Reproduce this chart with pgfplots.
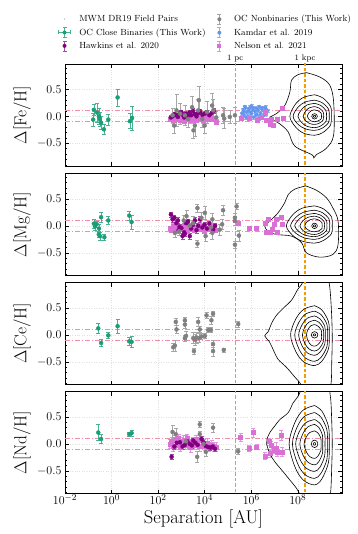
\documentclass[border=0pt]{standalone}
\usepackage{pgfplots}
\pgfplotsset{compat=1.18}
\usepackage{pgfplotstable}

\definecolor{ocgreen}{HTML}{1B9E77}
\definecolor{ocgrey}{HTML}{808080}
\definecolor{hawk}{HTML}{800080}
\definecolor{kamdar}{HTML}{6495ED}
\definecolor{nelson}{HTML}{DA70D6}
\definecolor{pcline}{HTML}{F0A000}
\definecolor{refpink}{HTML}{F090A8}

% x is log10(separation / AU)
\pgfplotsset{
  panel/.style={
    scale only axis, width=277pt, height=102pt,
    xmin=-2, xmax=9.9, ymin=-0.92, ymax=0.97,
    xtick={-2,0,2,4,6,8}, xticklabels={},
    ytick={-0.5,0,0.5},
    minor ytick={-0.9,-0.8,-0.7,-0.6,-0.4,-0.3,-0.2,-0.1,0.1,0.2,0.3,0.4,0.6,0.7,0.8,0.9},
    tick align=inside, xtick pos=both, ytick pos=both,
    major tick length=4pt, minor tick length=2pt,
    grid=major, grid style={dotted, black!12},
    axis line style={line width=0.6pt},
    tick style={black, line width=0.5pt},
    y tick label style={/pgf/number format/.cd, fixed, fixed zerofill, precision=1, /tikz/.cd},
    tick label style={font=\fontsize{12.5}{14}\selectfont},
    x tick label style={yshift=2.5pt},
    every axis y label/.style={at={(axis description cs:-0.155,0.5)}, rotate=90, anchor=center, font=\fontsize{18.5}{22}\selectfont},
    unbounded coords=jump,
  },
  leg/.style={anchor=north west, draw=none, fill=none, legend columns=1,
    font=\fontsize{8.9}{10.5}\selectfont, inner xsep=0pt, inner ysep=0pt,
    cells={anchor=west}, nodes={anchor=west}, /tikz/row sep=1.5pt},
  cont/.style={black, line width=0.6pt, smooth, tension=0.55, no markers, forget plot},
  refline/.style={draw=refpink, color=refpink, line width=1pt, dash pattern=on 5pt off 2pt on 1pt off 2pt, forget plot},
  pcl/.style={draw=pcline, color=pcline, line width=1.5pt, dash pattern=on 3.5pt off 2pt, forget plot},
  errs/.style={/pgfplots/error bars/y dir=both, /pgfplots/error bars/y explicit,
    /pgfplots/error bars/error bar style={line width=0.6pt, #1},
    /pgfplots/error bars/error mark options={rotate=90, mark size=2pt, line width=0.6pt, #1}},
  sgreen/.style={only marks, mark=*, mark size=2pt, color=ocgreen, forget plot, errs={ocgreen!80}},
  sgrey/.style={only marks, mark=*, mark size=2pt, color=ocgrey, forget plot, errs={ocgrey!70}},
  shawk/.style={only marks, mark=*, mark size=2pt, color=hawk, forget plot, errs={hawk!70}},
  skam/.style={only marks, mark=*, mark size=1.6pt, color=kamdar, forget plot, errs={kamdar!70}},
  snel/.style={only marks, mark=square*, mark size=2pt, color=nelson, forget plot, errs={nelson!75}},
  % legend images
  legMWM/.style={legend image code/.code={
    \draw[opacity=0] (0cm,0cm) -- (0.6cm+4pt,0cm);
    \fill[black!35, draw=none] (0.3cm,0cm) circle (0.7pt);}},
  legV/.style 2 args={legend image code/.code={
    \draw[opacity=0] (0cm,0cm) -- (0.6cm+4pt,0cm);
    \draw[#1, fill=none, line width=0.6pt] (0.3cm,-5pt) -- (0.3cm,5pt) (0.3cm-2pt,-5pt) -- (0.3cm+2pt,-5pt) (0.3cm-2pt,5pt) -- (0.3cm+2pt,5pt);
    \fill[#2, draw=none] (0.3cm,0cm) circle (2pt);}},
  legGreen/.style={legend image code/.code={
    \draw[opacity=0] (0cm,0cm) -- (0.6cm+4pt,0cm);
    \draw[ocgreen!80, fill=none, line width=0.6pt] (0.3cm,-5pt) -- (0.3cm,5pt) (0.3cm-2pt,-5pt) -- (0.3cm+2pt,-5pt) (0.3cm-2pt,5pt) -- (0.3cm+2pt,5pt)
       (0.3cm-6pt,0pt) -- (0.3cm+6pt,0pt) (0.3cm-6pt,-2pt) -- (0.3cm-6pt,2pt) (0.3cm+6pt,-2pt) -- (0.3cm+6pt,2pt);
    \fill[ocgreen, draw=none] (0.3cm,0cm) circle (2pt);}},
  legNel/.style={legend image code/.code={
    \draw[opacity=0] (0cm,0cm) -- (0.6cm+4pt,0cm);
    \draw[nelson!75, fill=none, line width=0.6pt] (0.3cm,-5pt) -- (0.3cm,5pt) (0.3cm-2pt,-5pt) -- (0.3cm+2pt,-5pt) (0.3cm-2pt,5pt) -- (0.3cm+2pt,5pt);
    \fill[nelson, draw=none] (0.3cm-1.9pt,-1.9pt) rectangle (0.3cm+1.9pt,1.9pt);}},
}

% ---------------- Fe ----------------
\pgfplotstableread{
x y e
-0.79 -0.06 0.12
-0.76 0.12 0.10
-0.62 0.07 0.18
-0.54 0.00 0.14
-0.50 -0.05 0.13
-0.45 -0.12 0.12
-0.33 -0.24 0.10
-0.14 -0.06 0.10
0.26 0.35 0.16
0.79 -0.09 0.14
0.88 -0.03 0.22
}\feGreen
\pgfplotstableread{
x y e
2.62 0.02 0.12
2.69 -0.17 0.15
2.79 0.11 0.30
2.95 0.05 0.20
3.15 0.02 0.18
3.29 -0.05 0.15
3.46 0.17 0.20
3.58 -0.17 0.20
3.52 -0.26 0.15
3.72 0.11 0.20
3.75 0.30 0.25
3.90 -0.05 0.15
4.00 -0.17 0.15
4.10 0.08 0.20
4.32 0.20 0.22
4.37 0.11 0.20
4.50 -0.02 0.12
4.79 0.02 0.15
4.84 -0.04 0.18
5.08 -0.01 0.12
5.30 0.02 0.15
}\feGrey
\pgfplotstableread{
x y e
2.55 -0.02 0.04
2.62 0.00 0.04
2.70 0.04 0.04
2.78 0.02 0.04
2.85 -0.01 0.04
2.92 0.05 0.04
3.00 0.08 0.04
3.05 0.03 0.04
3.12 -0.02 0.04
3.20 0.05 0.04
3.28 0.01 0.04
3.35 0.07 0.04
3.42 0.02 0.04
3.50 0.10 0.04
3.58 0.04 0.04
3.65 0.00 0.04
3.72 0.06 0.04
3.80 0.09 0.04
3.90 0.03 0.04
4.00 0.05 0.04
4.10 0.08 0.04
4.20 0.02 0.04
4.30 0.06 0.04
4.40 0.10 0.04
}\feHawk
\pgfplotstableread{
x y e
2.52 -0.05 0.04
2.58 -0.02 0.04
2.65 -0.08 0.04
2.72 -0.03 0.04
2.80 -0.06 0.04
2.88 -0.01 0.04
2.95 -0.07 0.04
3.02 -0.04 0.04
3.10 -0.09 0.04
3.18 -0.02 0.04
3.25 -0.06 0.04
3.32 -0.03 0.04
3.40 -0.08 0.04
3.48 -0.01 0.04
3.55 -0.05 0.04
3.62 -0.07 0.04
3.70 -0.02 0.04
3.78 -0.06 0.04
3.85 -0.03 0.04
3.92 -0.08 0.04
4.00 -0.04 0.04
4.08 -0.01 0.04
4.15 -0.06 0.04
4.25 -0.03 0.04
4.35 -0.05 0.04
4.51 -0.10 0.04
5.55 -0.03 0.03
5.90 -0.03 0.03
6.25 -0.07 0.03
6.45 -0.02 0.03
6.58 0.08 0.03
6.66 -0.08 0.03
6.80 -0.14 0.03
6.87 -0.06 0.03
6.93 -0.17 0.03
7.13 -0.05 0.03
7.31 0.16 0.03
7.37 -0.04 0.03
}\feNel
\pgfplotstableread{
x y e
5.60 0.05 0.03
5.65 0.12 0.03
5.70 0.02 0.03
5.75 0.15 0.03
5.80 0.08 0.03
5.85 0.00 0.03
5.90 0.10 0.03
5.95 0.17 0.03
6.00 0.05 0.03
6.05 0.12 0.03
6.10 -0.02 0.03
6.15 0.09 0.03
6.20 0.15 0.03
6.25 0.04 0.03
6.30 0.11 0.03
6.35 0.18 0.03
6.40 0.06 0.03
6.45 0.13 0.03
6.50 0.00 0.03
6.55 0.09 0.03
6.60 0.14 0.03
6.65 0.05 0.03
6.70 0.10 0.03
5.68 0.08 0.03
5.78 -0.03 0.03
5.88 0.14 0.03
5.98 0.07 0.03
6.08 0.16 0.03
6.18 0.02 0.03
6.28 0.13 0.03
6.38 0.01 0.03
6.48 0.16 0.03
6.58 0.04 0.03
5.72 0.18 0.03
6.02 0.19 0.03
6.32 -0.04 0.03
6.62 0.17 0.03
}\feKam

% ---------------- Mg ----------------
\pgfplotstableread{
x y e
-0.76 0.04 0.08
-0.71 -0.01 0.08
-0.64 0.03 0.06
-0.54 -0.05 0.07
-0.55 -0.16 0.06
-0.50 -0.19 0.07
-0.45 0.16 0.10
-0.31 -0.21 0.05
-0.14 0.10 0.07
0.76 0.19 0.08
0.86 0.07 0.13
}\mgGreen
\pgfplotstableread{
x y e
2.72 -0.13 0.08
2.90 -0.10 0.08
3.10 0.10 0.10
3.22 0.18 0.10
3.36 0.00 0.10
3.50 0.05 0.12
3.69 0.33 0.07
3.69 -0.33 0.07
3.86 0.15 0.10
4.01 0.24 0.12
4.04 -0.19 0.10
4.26 -0.03 0.10
4.33 0.12 0.12
4.33 -0.13 0.12
4.65 -0.07 0.10
4.75 0.03 0.10
4.79 0.29 0.09
5.30 0.15 0.08
5.30 0.09 0.08
5.37 0.36 0.06
5.47 -0.18 0.10
5.30 -0.35 0.06
}\mgGrey
\pgfplotstableread{
x y e
2.55 0.21 0.05
2.62 0.12 0.05
2.70 0.15 0.05
2.78 0.05 0.05
2.85 0.10 0.05
2.88 -0.08 0.05
2.92 -0.02 0.05
3.00 -0.04 0.05
3.05 -0.19 0.05
3.12 -0.12 0.05
3.15 -0.15 0.05
3.20 0.05 0.05
3.28 0.08 0.05
3.36 -0.19 0.05
3.42 -0.05 0.05
3.50 0.02 0.05
3.58 0.10 0.05
3.65 -0.08 0.05
3.72 0.00 0.05
3.80 0.12 0.05
3.90 -0.03 0.05
4.00 0.02 0.05
4.10 -0.05 0.05
4.20 0.04 0.05
4.37 -0.07 0.05
4.45 0.00 0.05
}\mgHawk
\pgfplotstableread{
x y e
2.50 -0.04 0.04
2.58 -0.08 0.04
2.65 0.00 0.04
2.72 -0.06 0.04
2.80 -0.02 0.04
2.88 -0.09 0.04
2.95 -0.03 0.04
3.02 -0.07 0.04
3.10 0.01 0.04
3.18 -0.05 0.04
3.25 -0.10 0.04
3.32 -0.02 0.04
3.40 -0.06 0.04
3.48 0.02 0.04
3.55 -0.08 0.04
3.62 -0.03 0.04
3.70 -0.05 0.04
3.78 0.00 0.04
3.85 -0.07 0.04
3.92 -0.02 0.04
4.00 -0.09 0.04
4.10 -0.04 0.04
4.20 -0.06 0.04
4.30 -0.01 0.04
4.45 -0.08 0.04
5.44 0.04 0.03
5.90 -0.05 0.03
6.23 -0.05 0.03
6.58 0.04 0.03
6.66 -0.11 0.03
6.73 0.12 0.03
6.80 -0.11 0.03
6.91 -0.07 0.03
6.97 0.03 0.03
7.06 0.12 0.03
7.11 -0.12 0.03
7.30 0.16 0.03
7.34 0.03 0.03
}\mgNel

% ---------------- Ce ----------------
\pgfplotstableread{
x y e
-0.57 0.12 0.10
-0.45 -0.15 0.07
-0.14 -0.01 0.05
0.26 0.16 0.13
0.76 -0.12 0.07
0.86 -0.13 0.10
}\ceGreen
\pgfplotstableread{
x y e
2.65 -0.23 0.08
2.72 -0.20 0.10
2.76 0.24 0.07
2.79 0.10 0.07
3.15 0.27 0.06
3.15 0.19 0.06
3.20 -0.02 0.08
3.15 -0.06 0.06
3.51 -0.06 0.10
3.58 -0.09 0.10
3.54 -0.30 0.06
3.65 -0.05 0.10
3.72 0.24 0.08
3.76 -0.06 0.08
3.79 0.10 0.06
3.86 -0.03 0.05
4.01 -0.02 0.05
4.08 0.36 0.06
4.15 0.09 0.05
4.27 0.09 0.05
4.29 0.27 0.07
4.36 0.39 0.05
4.36 -0.17 0.06
4.36 -0.30 0.10
4.82 -0.28 0.04
5.44 0.20 0.06
}\ceGrey

% ---------------- Nd ----------------
\pgfplotstableread{
x y e
-0.57 0.21 0.15
-0.45 0.09 0.08
0.76 0.18 0.04
0.86 0.20 0.06
}\ndGreen
\pgfplotstableread{
x y e
2.62 0.22 0.13
2.76 0.18 0.10
3.20 0.05 0.10
3.68 -0.24 0.10
3.79 0.36 0.06
3.79 0.18 0.06
3.95 0.00 0.08
4.05 -0.15 0.08
4.36 0.30 0.08
5.44 -0.14 0.05
}\ndGrey
\pgfplotstableread{
x y e
2.58 -0.24 0.05
2.70 -0.05 0.05
2.80 0.02 0.05
2.94 0.03 0.05
3.05 -0.05 0.05
3.15 -0.02 0.05
3.25 0.05 0.05
3.36 0.00 0.05
3.45 -0.03 0.05
3.51 0.06 0.05
3.60 0.02 0.05
3.70 -0.02 0.05
3.87 0.09 0.05
3.95 0.03 0.05
4.05 -0.04 0.05
4.15 -0.06 0.05
4.25 -0.07 0.05
4.35 -0.05 0.05
4.44 -0.09 0.05
}\ndHawk
\pgfplotstableread{
x y e
2.50 0.00 0.08
2.58 0.05 0.08
2.65 -0.05 0.08
2.72 0.08 0.08
2.80 -0.02 0.08
2.88 0.10 0.08
2.95 -0.06 0.08
3.02 0.04 0.08
3.10 0.07 0.08
3.18 -0.03 0.08
3.25 0.10 0.08
3.32 0.00 0.08
3.40 -0.07 0.08
3.48 0.05 0.08
3.55 -0.02 0.08
3.62 0.08 0.08
3.70 0.03 0.08
3.78 -0.05 0.08
3.85 0.06 0.08
3.92 0.00 0.08
4.00 -0.04 0.08
4.10 0.02 0.08
4.20 -0.06 0.08
4.30 -0.02 0.08
4.40 -0.05 0.08
4.50 -0.06 0.08
5.54 0.12 0.08
5.90 -0.08 0.05
6.08 0.21 0.08
6.23 -0.06 0.05
6.58 -0.22 0.06
6.77 0.04 0.06
6.80 -0.18 0.06
6.87 -0.03 0.08
6.97 -0.12 0.06
7.06 -0.08 0.10
7.11 -0.15 0.08
7.30 0.16 0.10
7.34 -0.15 0.08
}\ndNel

\begin{document}
\begin{tikzpicture}
\useasboundingbox (0,0) rectangle (357pt,-534pt);

% ===== panel 1: Fe (left legend column) =====
\begin{axis}[panel, at={(65pt,-64pt)}, anchor=north west,
  ylabel={$\Delta[\mathrm{Fe}/\mathrm{H}]$},
  legend cell align=left,
  legend style={leg, at={(-0.034,1.50)}},
]
\addlegendimage{legMWM}
\addlegendentry{MWM DR19 Field Pairs}
\addlegendimage{legGreen}
\addlegendentry{OC Close Binaries (This Work)}
\addlegendimage{legV={hawk!70}{hawk}}
\addlegendentry{Hawkins et al. 2020}

\addplot[refline] coordinates {(-2,0.1) (10,0.1)};
\addplot[refline] coordinates {(-2,-0.1) (10,-0.1)};
\addplot[skam] table[x=x, y=y, y error=e] {\feKam};
\addplot[snel] table[x=x, y=y, y error=e] {\feNel};
\addplot[shawk] table[x=x, y=y, y error=e] {\feHawk};
\addplot[sgrey] table[x=x, y=y, y error=e] {\feGrey};
\addplot[sgreen] table[x=x, y=y, y error=e] {\feGreen};
\addplot[pcl] coordinates {(5.314,-1) (5.314,1) (nan,nan) (8.314,-1) (8.314,1)};
% field-pair density contours
\addplot[cont] coordinates {(8.37,0.81) (8.94,0.73) (9.37,0.58) (9.54,0.27) (9.54,-0.35) (9.23,-0.59) (8.8,-0.71) (8.69,-0.77) (8.6,-0.71) (7.87,-0.55) (7.59,-0.29) (7.23,-0.14) (6.94,-0.07) (6.8,-0.02) (7.08,0.05) (7.44,0.2) (7.66,0.45) (7.73,0.67) (8.0,0.77) (8.37,0.81)};
\addplot[cont] coordinates {(8.72,0.40) (9.08,0.34) (9.41,0.18) (9.44,0) (9.41,-0.16) (9.08,-0.30) (8.72,-0.35) (8.24,-0.31) (7.89,-0.19) (7.66,0) (7.89,0.22) (8.24,0.35) (8.72,0.40)};
\addplot[cont] coordinates {(8.72,0.30) (9.04,0.255) (9.32,0.135) (9.35,0) (9.32,-0.117) (9.04,-0.221) (8.72,-0.26) (8.31,-0.229) (8.0,-0.143) (7.80,0) (8.0,0.165) (8.31,0.264) (8.72,0.30)};
\addplot[cont] coordinates {(8.72,0.24) (8.98,0.204) (9.21,0.108) (9.23,0) (9.21,-0.095) (8.98,-0.179) (8.72,-0.21) (8.40,-0.185) (8.17,-0.116) (8.01,0) (8.17,0.132) (8.40,0.211) (8.72,0.24)};
\addplot[cont] coordinates {(8.72,0.18) (8.92,0.153) (9.09,0.081) (9.11,0) (9.09,-0.068) (8.92,-0.128) (8.72,-0.15) (8.50,-0.132) (8.34,-0.083) (8.23,0) (8.34,0.099) (8.50,0.158) (8.72,0.18)};
\addplot[cont] coordinates {(8.72,0.12) (8.87,0.102) (9.01,0.054) (9.02,0) (9.01,-0.045) (8.87,-0.085) (8.72,-0.10) (8.58,-0.088) (8.48,-0.055) (8.41,0) (8.48,0.066) (8.58,0.106) (8.72,0.12)};
\addplot[cont] coordinates {(8.84,0) (8.805,0.035) (8.72,0.05) (8.635,0.035) (8.60,0) (8.635,-0.035) (8.72,-0.05) (8.805,-0.035) (8.84,0)};
\addplot[cont] coordinates {(8.77,0) (8.755,0.014) (8.72,0.02) (8.685,0.014) (8.67,0) (8.685,-0.014) (8.72,-0.02) (8.755,-0.014) (8.77,0)};
\coordinate (pc) at (axis cs:5.314,0.97);
\coordinate (kpc) at (axis cs:8.314,0.97);
\end{axis}
\node[anchor=south, inner sep=1.5pt, font=\fontsize{8.2}{9}\selectfont] at (pc) {1 pc};
\node[anchor=south, inner sep=1.5pt, font=\fontsize{8.2}{9}\selectfont] at (kpc) {1 kpc};

% ===== overlay on panel 1 holding the right legend column =====
\begin{axis}[panel, hide axis, grid=none, at={(65pt,-64pt)}, anchor=north west,
  legend cell align=left,
  legend style={leg, at={(0.525,1.50)}},
]
\addlegendimage{legV={ocgrey!70}{ocgrey}}
\addlegendentry{OC Nonbinaries (This Work)}
\addlegendimage{legV={kamdar!70}{kamdar}}
\addlegendentry{Kamdar et al. 2019}
\addlegendimage{legNel}
\addlegendentry{Nelson et al. 2021}
\end{axis}

% ===== panel 2: Mg =====
\begin{axis}[panel, at={(65pt,-173.5pt)}, anchor=north west,
  ylabel={$\Delta[\mathrm{Mg}/\mathrm{H}]$}]
\addplot[refline] coordinates {(-2,0.1) (10,0.1)};
\addplot[refline] coordinates {(-2,-0.1) (10,-0.1)};
\addplot[snel] table[x=x, y=y, y error=e] {\mgNel};
\addplot[shawk] table[x=x, y=y, y error=e] {\mgHawk};
\addplot[sgrey] table[x=x, y=y, y error=e] {\mgGrey};
\addplot[sgreen] table[x=x, y=y, y error=e] {\mgGreen};
\addplot[pcl] coordinates {(5.314,-1) (5.314,1) (nan,nan) (8.314,-1) (8.314,1)};
\addplot[cont] coordinates {(8.34,0.74) (8.8,0.66) (9.23,0.52) (9.51,0.33) (9.73,0.09) (9.73,-0.35) (9.51,-0.53) (8.94,-0.58) (8.37,-0.5) (8.16,-0.31) (7.73,-0.19) (7.08,-0.16) (6.73,-0.1) (6.58,0.0) (6.8,0.09) (7.15,0.24) (7.44,0.43) (7.59,0.58) (7.87,0.68) (8.34,0.74)};
\addplot[cont] coordinates {(8.72,0.37) (9.10,0.315) (9.45,0.167) (9.48,0) (9.45,-0.144) (9.10,-0.272) (8.72,-0.32) (8.18,-0.282) (7.78,-0.176) (7.51,0) (7.78,0.204) (8.18,0.326) (8.72,0.37)};
\addplot[cont] coordinates {(8.72,0.29) (9.05,0.247) (9.34,0.13) (9.37,0) (9.34,-0.113) (9.05,-0.213) (8.72,-0.25) (8.26,-0.22) (7.92,-0.138) (7.69,0) (7.92,0.16) (8.26,0.255) (8.72,0.29)};
\addplot[cont] coordinates {(8.72,0.23) (8.99,0.196) (9.23,0.104) (9.25,0) (9.23,-0.09) (8.99,-0.17) (8.72,-0.20) (8.34,-0.176) (8.06,-0.11) (7.87,0) (8.06,0.127) (8.34,0.202) (8.72,0.23)};
\addplot[cont] coordinates {(8.72,0.18) (8.94,0.153) (9.13,0.081) (9.15,0) (9.13,-0.072) (8.94,-0.136) (8.72,-0.16) (8.44,-0.141) (8.23,-0.088) (8.09,0) (8.23,0.099) (8.44,0.158) (8.72,0.18)};
\addplot[cont] coordinates {(8.72,0.13) (8.89,0.11) (9.04,0.059) (9.05,0) (9.04,-0.05) (8.89,-0.094) (8.72,-0.11) (8.53,-0.097) (8.39,-0.06) (8.30,0) (8.39,0.072) (8.53,0.114) (8.72,0.13)};
\addplot[cont] coordinates {(8.84,0) (8.805,0.035) (8.72,0.05) (8.635,0.035) (8.60,0) (8.635,-0.035) (8.72,-0.05) (8.805,-0.035) (8.84,0)};
\addplot[cont] coordinates {(8.77,0) (8.755,0.014) (8.72,0.02) (8.685,0.014) (8.67,0) (8.685,-0.014) (8.72,-0.02) (8.755,-0.014) (8.77,0)};
\end{axis}

% ===== panel 3: Ce =====
\begin{axis}[panel, at={(65pt,-282.5pt)}, anchor=north west,
  ylabel={$\Delta[\mathrm{Ce}/\mathrm{H}]$}]
\addplot[refline] coordinates {(-2,0.1) (10,0.1)};
\addplot[refline] coordinates {(-2,-0.1) (10,-0.1)};
\addplot[sgrey] table[x=x, y=y, y error=e] {\ceGrey};
\addplot[sgreen] table[x=x, y=y, y error=e] {\ceGreen};
\addplot[pcl] coordinates {(5.314,-1) (5.314,1) (nan,nan) (8.314,-1) (8.314,1)};
\addplot[cont] coordinates {(8.40,1.15) (9.20,1.15) (9.36,0.93) (9.44,0.5) (9.48,0.0) (9.46,-0.5) (9.42,-0.93) (9.2,-1.15) (8.4,-1.15) (8.16,-0.93) (7.87,-0.78) (7.51,-0.6) (7.15,-0.45) (6.94,-0.27) (6.77,-0.12) (6.58,-0.02) (6.73,0.06) (6.87,0.21) (7.08,0.36) (7.44,0.52) (7.73,0.64) (8.01,0.85) (8.16,0.93) (8.40,1.15)};
\addplot[cont] coordinates {(8.72,0.54) (9.04,0.459) (9.32,0.243) (9.35,0) (9.32,-0.257) (9.04,-0.485) (8.72,-0.57) (8.26,-0.502) (7.92,-0.314) (7.69,0) (7.92,0.297) (8.26,0.475) (8.72,0.54)};
\addplot[cont] coordinates {(8.72,0.44) (9.0,0.374) (9.25,0.198) (9.27,0) (9.25,-0.22) (9.0,-0.417) (8.72,-0.49) (8.34,-0.431) (8.06,-0.27) (7.87,0) (8.06,0.242) (8.34,0.387) (8.72,0.44)};
\addplot[cont] coordinates {(8.72,0.35) (8.95,0.298) (9.16,0.158) (9.18,0) (9.16,-0.171) (8.95,-0.323) (8.72,-0.38) (8.41,-0.334) (8.19,-0.209) (8.04,0) (8.19,0.193) (8.41,0.308) (8.72,0.35)};
\addplot[cont] coordinates {(8.72,0.27) (8.92,0.23) (9.09,0.122) (9.11,0) (9.09,-0.135) (8.92,-0.255) (8.72,-0.30) (8.49,-0.264) (8.31,-0.165) (8.20,0) (8.31,0.149) (8.49,0.238) (8.72,0.27)};
\addplot[cont] coordinates {(8.72,0.19) (8.87,0.162) (9.01,0.086) (9.02,0) (9.01,-0.095) (8.87,-0.179) (8.72,-0.21) (8.56,-0.185) (8.45,-0.116) (8.37,0) (8.45,0.105) (8.56,0.167) (8.72,0.19)};
\addplot[cont] coordinates {(8.86,0) (8.82,0.042) (8.72,0.06) (8.62,0.042) (8.58,0) (8.62,-0.042) (8.72,-0.06) (8.82,-0.042) (8.86,0)};
\addplot[cont] coordinates {(8.77,0) (8.755,0.014) (8.72,0.02) (8.685,0.014) (8.67,0) (8.685,-0.014) (8.72,-0.02) (8.755,-0.014) (8.77,0)};
\end{axis}

% ===== panel 4: Nd =====
\begin{axis}[panel, at={(65pt,-391.5pt)}, anchor=north west,
  ylabel={$\Delta[\mathrm{Nd}/\mathrm{H}]$},
  xticklabels={$10^{-2}$,$10^{0}$,$10^{2}$,$10^{4}$,$10^{6}$,$10^{8}$},
  xlabel={Separation [AU]},
  xlabel style={at={(axis description cs:0.5,-0.25)}, anchor=center, font=\fontsize{18.5}{22}\selectfont}]
\addplot[refline] coordinates {(-2,0.1) (10,0.1)};
\addplot[refline] coordinates {(-2,-0.1) (10,-0.1)};
\addplot[snel] table[x=x, y=y, y error=e] {\ndNel};
\addplot[shawk] table[x=x, y=y, y error=e] {\ndHawk};
\addplot[sgrey] table[x=x, y=y, y error=e] {\ndGrey};
\addplot[sgreen] table[x=x, y=y, y error=e] {\ndGreen};
\addplot[pcl] coordinates {(5.314,-1) (5.314,1) (nan,nan) (8.314,-1) (8.314,1)};
\addplot[cont] coordinates {(8.3,1.15) (9.2,1.15) (9.40,0.88) (9.46,0.4) (9.48,0.0) (9.46,-0.4) (9.40,-0.94) (9.2,-1.15) (8.3,-1.15) (8.09,-0.94) (7.94,-0.82) (7.66,-0.67) (7.3,-0.48) (7.01,-0.33) (6.8,-0.18) (6.66,0.0) (6.68,0.09) (6.8,0.21) (7.01,0.33) (7.23,0.45) (7.59,0.58) (7.8,0.76) (8.01,0.88) (8.3,1.15)};
\addplot[cont] coordinates {(8.72,0.71) (9.04,0.604) (9.32,0.32) (9.35,0) (9.32,-0.342) (9.04,-0.646) (8.72,-0.76) (8.23,-0.669) (7.87,-0.418) (7.63,0) (7.87,0.391) (8.23,0.625) (8.72,0.71)};
\addplot[cont] coordinates {(8.72,0.58) (9.0,0.493) (9.25,0.261) (9.27,0) (9.25,-0.288) (9.0,-0.544) (8.72,-0.64) (8.29,-0.563) (7.98,-0.352) (7.77,0) (7.98,0.319) (8.29,0.51) (8.72,0.58)};
\addplot[cont] coordinates {(8.72,0.45) (8.95,0.383) (9.15,0.203) (9.17,0) (9.15,-0.23) (8.95,-0.434) (8.72,-0.51) (8.36,-0.449) (8.09,-0.281) (7.91,0) (8.09,0.248) (8.36,0.396) (8.72,0.45)};
\addplot[cont] coordinates {(8.72,0.36) (8.90,0.306) (9.06,0.162) (9.07,0) (9.06,-0.176) (8.90,-0.332) (8.72,-0.39) (8.44,-0.343) (8.23,-0.215) (8.09,0) (8.23,0.198) (8.44,0.317) (8.72,0.36)};
\addplot[cont] coordinates {(8.72,0.24) (8.86,0.204) (8.99,0.108) (9.0,0) (8.99,-0.122) (8.86,-0.23) (8.72,-0.27) (8.52,-0.238) (8.37,-0.149) (8.27,0) (8.37,0.132) (8.52,0.211) (8.72,0.24)};
\addplot[cont] coordinates {(8.86,0) (8.82,0.05) (8.72,0.07) (8.62,0.05) (8.58,0) (8.62,-0.05) (8.72,-0.07) (8.82,-0.05) (8.86,0)};
\addplot[cont] coordinates {(8.77,0) (8.755,0.018) (8.72,0.025) (8.685,0.018) (8.67,0) (8.685,-0.018) (8.72,-0.025) (8.755,-0.018) (8.77,0)};
\end{axis}
\end{tikzpicture}
\end{document}
